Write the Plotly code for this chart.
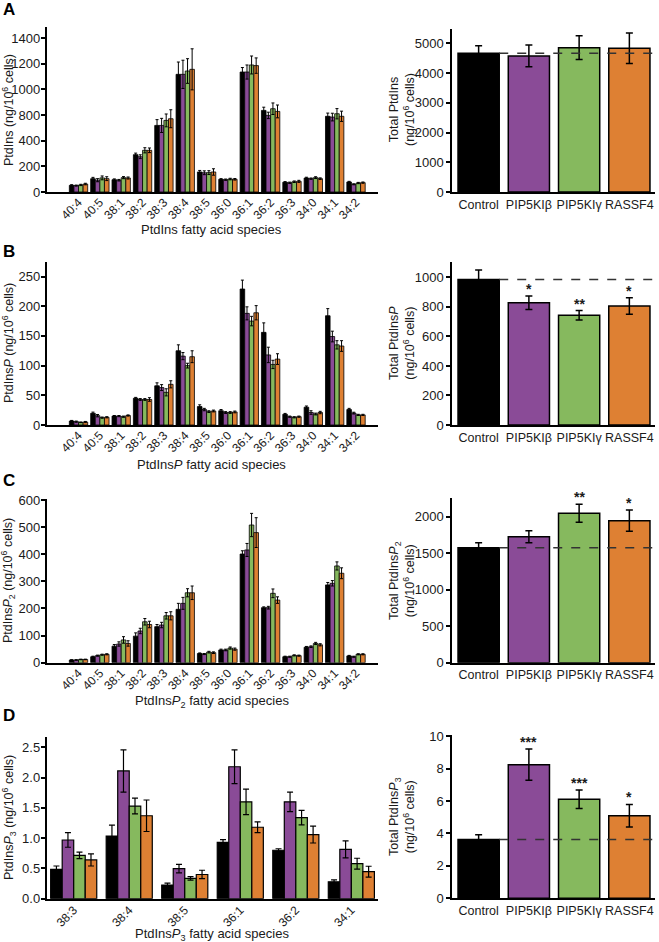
import plotly.graph_objects as go

W, H = 659, 942

# ---------------- data ----------------
species_main = ["40:4", "40:5", "38:1", "38:2", "38:3", "38:4", "38:5",
                "36:0", "36:1", "36:2", "36:3", "34:0", "34:1", "34:2"]
species_pip3 = ["38:3", "38:4", "38:5", "36:1", "36:2", "34:1"]
groups = ["Control", "PIP5KIβ", "PIP5KIγ", "RASSF4"]
colors = ["#000000", "#8A4B97", "#86B95E", "#DE8033"]

# Panel A: PtdIns species (values on the plotted linear scale)
ptdins_control = [52, 104, 96, 291, 519, 917, 156, 99, 935, 636, 76, 109, 590, 78]
ptdins_beta = [50, 92, 92, 275, 519, 917, 150, 96, 935, 597, 72, 104, 584, 60]
ptdins_gamma = [55, 110, 112, 325, 558, 943, 151, 101, 990, 649, 80, 112, 610, 70]
ptdins_rassf4 = [62, 104, 109, 325, 571, 956, 156, 99, 985, 628, 83, 104, 590, 73]
ptdins_control_err = [5, 10, 6, 12, 45, 96, 12, 5, 35, 25, 5, 6, 25, 5]
ptdins_beta_err = [4, 12, 6, 15, 55, 110, 15, 5, 55, 25, 5, 5, 30, 4]
ptdins_gamma_err = [5, 15, 8, 20, 50, 96, 15, 6, 70, 45, 6, 7, 40, 5]
ptdins_rassf4_err = [6, 15, 8, 18, 70, 160, 25, 6, 60, 50, 8, 6, 40, 5]
ptdins_tickvals = [0, 200, 400, 600, 800, 1000, 1200]
ptdins_ticktext = ["0", "200", "400", "800", "1000", "1200", "1400"]

# Panel B: PtdInsP species
pip_control = [6.7, 19.7, 15, 45, 66, 125, 31, 24, 229, 156, 18, 30, 184, 26]
pip_beta = [5.6, 15.7, 15, 43, 63, 116, 26, 21, 188, 118, 14, 21, 149, 20]
pip_gamma = [4.5, 12.4, 14, 43, 55, 100, 22.5, 21, 175, 102, 13, 18.5, 135, 17]
pip_rassf4 = [5, 13, 16, 43, 68.5, 115, 23.6, 22, 189, 111, 14, 21, 133, 17]
pip_control_err = [1, 2, 1, 1.5, 5, 10, 3, 2, 15, 16, 1.5, 2, 12, 2]
pip_beta_err = [1, 2, 1, 1.5, 5, 6, 2, 1.5, 11, 13, 1, 3, 9, 1.5]
pip_gamma_err = [0.5, 1, 1, 1.5, 6, 4, 1.5, 1.5, 8, 7, 1, 1.5, 7, 1]
pip_rassf4_err = [1, 1, 1, 3, 6, 10, 1.5, 1.5, 12, 9, 1, 2, 9, 1]

# Panel C: PtdInsP2 species
pip2_control = [10, 22, 61, 98, 133, 197, 34, 47, 401, 203, 22, 57, 287, 25]
pip2_beta = [10, 26, 69, 117, 139, 219, 32, 47, 416, 203, 22, 59, 293, 22]
pip2_gamma = [12, 29.5, 84, 151, 173, 258, 39, 54, 508, 256, 27, 71, 357, 31]
pip2_rassf4 = [12, 31, 71, 141, 173, 258, 37, 50, 480, 231, 26, 66, 330, 31]
pip2_control_err = [1, 2, 6, 12, 8, 22, 2, 3, 12, 3, 2, 3, 9, 2]
pip2_beta_err = [1, 2, 8, 10, 10, 22, 2, 3, 24, 5, 2, 3, 10, 2]
pip2_gamma_err = [1, 2, 12, 12, 12, 15, 3, 4, 43, 16, 2, 4, 15, 2]
pip2_rassf4_err = [1, 2, 10, 12, 15, 25, 3, 4, 55, 12, 2, 4, 20, 2]

# Panel D: PtdInsP3 species
pip3_control = [0.485, 1.035, 0.226, 0.93, 0.80, 0.28]
pip3_beta = [0.97, 2.11, 0.496, 2.18, 1.6, 0.815]
pip3_gamma = [0.716, 1.53, 0.336, 1.6, 1.34, 0.578]
pip3_rassf4 = [0.64, 1.37, 0.40, 1.18, 1.06, 0.446]
pip3_control_err = [0.055, 0.18, 0.03, 0.045, 0.025, 0.03]
pip3_beta_err = [0.12, 0.35, 0.07, 0.28, 0.16, 0.14]
pip3_gamma_err = [0.055, 0.13, 0.03, 0.21, 0.12, 0.09]
pip3_rassf4_err = [0.1, 0.26, 0.07, 0.09, 0.14, 0.09]

# Totals
total_ptdins = [4663, 4573, 4853, 4832]
total_ptdins_err = [250, 365, 400, 510]
total_pip = [986, 828, 743, 806]
total_pip_err = [63, 45, 32, 56]
total_pip2 = [1575, 1726, 2046, 1945]
total_pip2_err = [68, 82, 123, 146]
total_pip3 = [3.62, 8.24, 6.11, 5.09]
total_pip3_err = [0.3, 0.96, 0.57, 0.7]
stars_pip = ["", "*", "**", "*"]
stars_pip2 = ["", "", "**", "*"]
stars_pip3 = ["", "***", "***", "*"]

# ---------------- layout helpers ----------------
FONT = "Arial, Liberation Sans, Helvetica, sans-serif"
TXT = "#1a1a1a"


def px(x):
    return x / W


def py(y):
    return 1 - y / H


fig = go.Figure()
layout = dict(
    width=W, height=H, margin=dict(l=0, r=0, t=0, b=0, autoexpand=False),
    paper_bgcolor="white", plot_bgcolor="white", showlegend=False,
    barmode="overlay", font=dict(family=FONT, color=TXT, size=13),
)
annotations = []
shapes = []


def add_axes(n, xdom, ydom, xr, yr, cats, tickangle, ytickvals=None,
             yticktext=None, tickfmt=None, xfont=12, standoff=0, ystand=0):
    xa = dict(domain=[px(xdom[0]), px(xdom[1])], anchor="y%d" % n,
              type="category", categoryorder="array", categoryarray=cats,
              range=xr, showline=True, linecolor="black", linewidth=1.5,
              ticks="", showgrid=False, zeroline=False, tickangle=tickangle,
              automargin=False, ticklabelstandoff=standoff,
              tickfont=dict(size=xfont, color=TXT, family=FONT), fixedrange=True)
    ya = dict(domain=[py(ydom[1]), py(ydom[0])], anchor="x%d" % n,
              range=yr, showline=True, linecolor="black", linewidth=1.5,
              ticks="outside", ticklen=4, tickwidth=1.5, tickcolor="black",
              showgrid=False, zeroline=False, automargin=False,
              ticklabelstandoff=ystand,
              tickfont=dict(size=13, color=TXT, family=FONT), fixedrange=True)
    if ytickvals is not None:
        ya["tickvals"] = ytickvals
    if yticktext is not None:
        ya["ticktext"] = yticktext
    if tickfmt:
        ya["tickformat"] = tickfmt
    layout["xaxis" if n == 1 else "xaxis%d" % n] = xa
    layout["yaxis" if n == 1 else "yaxis%d" % n] = ya


def species_panel(n, cats, series, errs, gw, lw=0.8, ew=1, cap=1.5):
    bw = gw / 4
    for k in range(4):
        fig.add_trace(go.Bar(
            x=cats, y=series[k], width=bw, offset=-gw / 2 + k * bw,
            marker=dict(color=colors[k], line=dict(color="black", width=lw)),
            error_y=dict(type="data", array=errs[k], color="black",
                         thickness=ew, width=cap),
            xaxis="x%d" % n, yaxis="y%d" % n, name=groups[k]))


def total_panel(n, vals, errs, stars):
    fig.add_trace(go.Bar(
        x=groups, y=vals, width=0.82,
        marker=dict(color=colors, line=dict(color="black", width=1.5)),
        error_y=dict(type="data", array=errs, color="black",
                     thickness=1.5, width=3.5),
        xaxis="x%d" % n, yaxis="y%d" % n))
    shapes.append(dict(type="line", xref="x%d" % n, yref="y%d" % n,
                       x0=0.41, x1=3.52, y0=vals[0], y1=vals[0],
                       line=dict(color="#333333", width=1.5, dash="dash"),
                       layer="above"))
    for g, v, e, s in zip(groups, vals, errs, stars):
        if s:
            annotations.append(dict(xref="x%d" % n, yref="y%d" % n, x=g,
                                    y=v + e, text="<b>%s</b>" % s,
                                    showarrow=False, yanchor="bottom",
                                    yshift=-3, font=dict(size=14, color=TXT)))


def ytitle(x, yc, text, size=12.5):
    annotations.append(dict(xref="paper", yref="paper", x=px(x), y=py(yc),
                            text=text, textangle=-90, showarrow=False,
                            xanchor="center", yanchor="middle",
                            font=dict(size=size, color=TXT)))


def label(x, y, text, size=13, bold=False):
    annotations.append(dict(xref="paper", yref="paper", x=px(x), y=py(y),
                            text=("<b>%s</b>" % text) if bold else text,
                            showarrow=False, xanchor="center", yanchor="middle",
                            font=dict(size=size, color=TXT if not bold else "black")))


LX = (46.5, 378)
RX = (452, 655)
sp_range = [-1.5, 14.03]
tot_range = [-0.53, 3.51]

# Panel A
add_axes(1, LX, (27, 192), sp_range, [0, 1286], species_main, -45,
         ptdins_tickvals, ptdins_ticktext, standoff=-3, ystand=-2)
species_panel(1, species_main,
              [ptdins_control, ptdins_beta, ptdins_gamma, ptdins_rassf4],
              [ptdins_control_err, ptdins_beta_err, ptdins_gamma_err,
               ptdins_rassf4_err], 0.86)
add_axes(2, RX, (29, 192), tot_range, [0, 5480], groups, 0,
         [0, 1000, 2000, 3000, 4000, 5000], xfont=12.5)
total_panel(2, total_ptdins, total_ptdins_err, ["", "", "", ""])

# Panel B
add_axes(3, LX, (261.7, 425), sp_range, [0, 275], species_main, -45,
         [0, 50, 100, 150, 200, 250], standoff=-3, ystand=-2)
species_panel(3, species_main, [pip_control, pip_beta, pip_gamma, pip_rassf4],
              [pip_control_err, pip_beta_err, pip_gamma_err, pip_rassf4_err],
              0.86)
add_axes(4, RX, (261.7, 425), tot_range, [0, 1106], groups, 0,
         [0, 200, 400, 600, 800, 1000], xfont=12.5)
total_panel(4, total_pip, total_pip_err, stars_pip)

# Panel C
add_axes(5, LX, (499, 662.7), sp_range, [0, 604], species_main, -45,
         [0, 100, 200, 300, 400, 500, 600], standoff=-3, ystand=-2)
species_panel(5, species_main,
              [pip2_control, pip2_beta, pip2_gamma, pip2_rassf4],
              [pip2_control_err, pip2_beta_err, pip2_gamma_err,
               pip2_rassf4_err], 0.86)
add_axes(6, RX, (498.3, 662.7), tot_range, [0, 2251], groups, 0,
         [0, 500, 1000, 1500, 2000], xfont=12.5)
total_panel(6, total_pip2, total_pip2_err, stars_pip2)

# Panel D
add_axes(7, LX, (736.7, 898.7), [-0.49, 5.48], [0, 2.676], species_pip3, -45,
         [0, 0.5, 1.0, 1.5, 2.0, 2.5], tickfmt=".1f", standoff=-2, ystand=-2)
species_panel(7, species_pip3,
              [pip3_control, pip3_beta, pip3_gamma, pip3_rassf4],
              [pip3_control_err, pip3_beta_err, pip3_gamma_err,
               pip3_rassf4_err], 0.83, lw=1.2, ew=1.2, cap=3)
add_axes(8, RX, (735.3, 898.3), tot_range, [0, 10.05], groups, 0,
         [0, 2, 4, 6, 8, 10], xfont=12.5)
total_panel(8, total_pip3, total_pip3_err, stars_pip3)

# Axis titles
ytitle(8, 110, "PtdIns (ng/10<sup>6</sup> cells)")
ytitle(8, 343, "PtdIns<i>P</i> (ng/10<sup>6</sup> cells)")
ytitle(8, 581, "PtdIns<i>P</i><sub>2</sub> (ng/10<sup>6</sup> cells)")
ytitle(9, 818, "PtdIns<i>P</i><sub>3</sub> (ng/10<sup>6</sup> cells)")
ytitle(402, 110, "Total PtdIns<br>(ng/10<sup>6</sup> cells)")
ytitle(402, 343, "Total PtdIns<i>P</i><br>(ng/10<sup>6</sup> cells)")
ytitle(402, 581, "Total PtdIns<i>P</i><sub>2</sub><br>(ng/10<sup>6</sup> cells)")
ytitle(402, 817, "Total PtdIns<i>P</i><sub>3</sub><br>(ng/10<sup>6</sup> cells)")

label(212, 229, "PtdIns fatty acid species")
label(212, 464, "PtdIns<i>P</i> fatty acid species")
label(212, 701, "PtdIns<i>P</i><sub>2</sub> fatty acid species")
label(212, 934, "PtdIns<i>P</i><sub>3</sub> fatty acid species")

label(9, 10, "A", size=17, bold=True)
label(9, 252, "B", size=17, bold=True)
label(9, 480, "C", size=17, bold=True)
label(9, 715, "D", size=17, bold=True)

layout["annotations"] = annotations
layout["shapes"] = shapes
fig.update_layout(**layout)
fig.write_html(
    "out.html",
    config={"displayModeBar": False},
    post_script="document.body.style.margin='0';document.body.style.padding='0';"
                "document.body.style.overflow='hidden';",
)
